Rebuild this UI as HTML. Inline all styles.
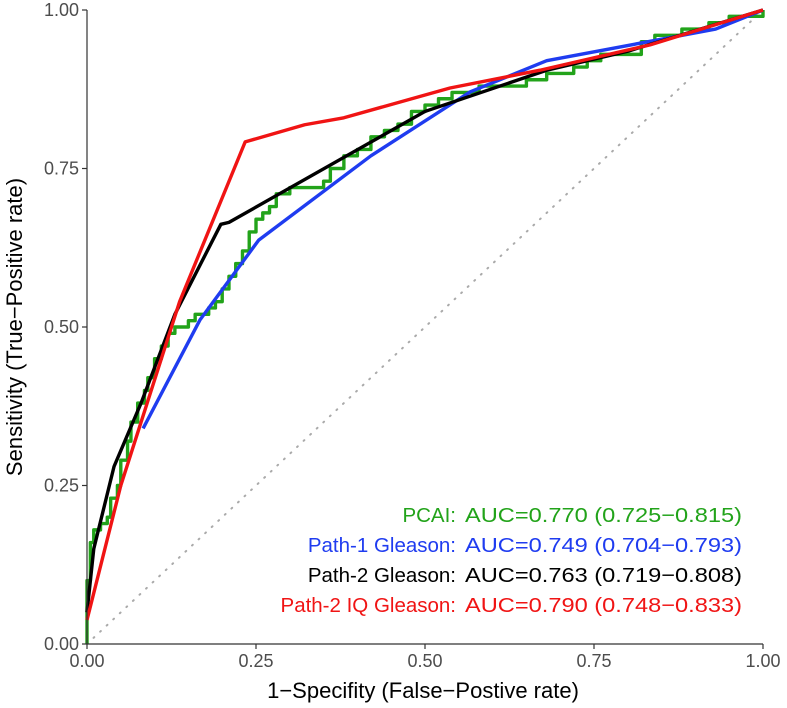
<!DOCTYPE html>
<html><head><meta charset="utf-8"><style>
html,body{margin:0;padding:0;background:#fff;}
svg{display:block;font-family:"Liberation Sans",sans-serif;}
</style></head><body>
<svg id="chart" width="787" height="708"></svg>
<script>
const tickVals=[0,0.25,0.5,0.75,1];
const tickLabels=["0.00","0.25","0.50","0.75","1.00"];
const pcaiX=[0,0,0.005,0.01,0.02,0.03,0.035,0.045,0.05,0.06,0.065,0.075,0.085,0.09,0.1,0.11,0.12,0.13,0.15,0.16,0.17,0.18,0.19,0.2,0.21,0.22,0.23,0.24,0.25,0.26,0.27,0.28,0.3,0.33,0.35,0.36,0.38,0.4,0.42,0.44,0.46,0.48,0.5,0.52,0.54,0.58,0.6,0.62,0.65,0.68,0.7,0.72,0.74,0.76,0.8,0.82,0.84,0.88,0.92,0.95,1];
const pcaiY=[0,0.1,0.16,0.18,0.19,0.2,0.23,0.25,0.29,0.32,0.35,0.38,0.4,0.42,0.45,0.47,0.49,0.5,0.51,0.52,0.52,0.53,0.54,0.56,0.58,0.6,0.62,0.65,0.67,0.68,0.69,0.71,0.72,0.72,0.73,0.75,0.77,0.78,0.8,0.81,0.82,0.84,0.85,0.86,0.87,0.88,0.88,0.88,0.89,0.9,0.9,0.91,0.92,0.93,0.93,0.95,0.96,0.97,0.98,0.99,1];
const path1X=[0.083,0.167,0.254,0.42,0.567,0.68,0.83,0.93,1];
const path1Y=[0.34,0.511,0.637,0.77,0.871,0.92,0.95,0.97,1];
const path2X=[0,0.01,0.04,0.08,0.13,0.198,0.21,0.5,0.68,0.8,1];
const path2Y=[0.05,0.15,0.28,0.38,0.52,0.662,0.665,0.84,0.905,0.935,1];
const iqX=[0,0.05,0.137,0.234,0.322,0.38,0.537,0.67,0.833,1];
const iqY=[0.038,0.25,0.54,0.792,0.819,0.83,0.877,0.905,0.945,1];
const legendNames=["PCAI:","Path-1 Gleason:","Path-2 Gleason:","Path-2 IQ Gleason:"];
const legendAUC=["AUC=0.770 (0.725\u22120.815)","AUC=0.749 (0.704\u22120.793)","AUC=0.763 (0.719\u22120.808)","AUC=0.790 (0.748\u22120.833)"];
const colors=["#22a31a","#1f3cf0","#000000","#f01414"];

const svg=document.getElementById('chart');
const NS="http://www.w3.org/2000/svg";
const X0=87,X1=763,Y0=644,Y1=10;
function sx(v){return X0+v*(X1-X0);}
function sy(v){return Y0-v*(Y0-Y1);}
function mk(tag,attrs){const e=document.createElementNS(NS,tag);for(const k in attrs)e.setAttribute(k,attrs[k]);svg.appendChild(e);return e;}

const diag=mk('line',{x1:sx(0),y1:sy(0),x2:sx(1),y2:sy(1),stroke:'#aaa','stroke-width':2,'stroke-dasharray':'1 8','stroke-linecap':'round'});



function poly(xs,ys,step){let d='';for(let i=0;i<xs.length;i++){if(i===0)d+='M'+sx(xs[i])+','+sy(ys[i]);else if(step){d+='L'+sx(xs[i])+','+sy(ys[i-1])+'L'+sx(xs[i])+','+sy(ys[i]);}else d+='L'+sx(xs[i])+','+sy(ys[i]);}return d;}
const series=[[pcaiX,pcaiY,true,'pcai-curve'],[path1X,path1Y,false,'path1-gleason-curve'],[path2X,path2Y,false,'path2-gleason-curve'],[iqX,iqY,false,'path2-iq-gleason-curve']];
series.forEach((s,i)=>{
  const p=mk('path',{d:poly(s[0],s[1],s[2]),fill:'none',stroke:colors[i],'stroke-width':3.4,'stroke-linejoin':'round'});
  
  
});

const ax=mk('path',{d:`M${X0},${Y1}L${X0},${Y0}L${X1},${Y0}`,fill:'none',stroke:'#333','stroke-width':1.2});


tickVals.forEach((v,i)=>{
  mk('line',{x1:sx(v),y1:Y0,x2:sx(v),y2:Y0+5,stroke:'#333','stroke-width':1.2});
  mk('line',{x1:X0-5,y1:sy(v),x2:X0,y2:sy(v),stroke:'#333','stroke-width':1.2});
  const tx=mk('text',{x:sx(v),y:Y0+23,'text-anchor':'middle','font-size':18,fill:'#4d4d4d'});
  tx.textContent=tickLabels[i];
  
  
  const ty=mk('text',{x:X0-8,y:sy(v)+6,'text-anchor':'end','font-size':18,fill:'#4d4d4d'});
  ty.textContent=tickLabels[i];
  
  
});
const xt=mk('text',{x:(X0+X1)/2-2,y:698,'text-anchor':'middle','font-size':22,fill:'#000'});
xt.textContent='1\u2212Specifity (False\u2212Postive rate)';


const yt=mk('text',{x:0,y:0,'text-anchor':'middle','font-size':22,fill:'#000',transform:`translate(22,${(Y0+Y1)/2}) rotate(-90)`});
yt.textContent='Sensitivity (True\u2212Positive rate)';



legendNames.forEach((n,i)=>{
  const y=522+i*30;
  const a=mk('text',{x:456,y:y,'text-anchor':'end','font-size':20.5,fill:colors[i]});
  a.textContent=n;
  
  
  const b=mk('text',{x:465,y:y,'font-size':20.5,fill:colors[i],textLength:277,lengthAdjust:'spacingAndGlyphs'});
  b.textContent=legendAUC[i];
  
  
});
</script>
</body></html>
